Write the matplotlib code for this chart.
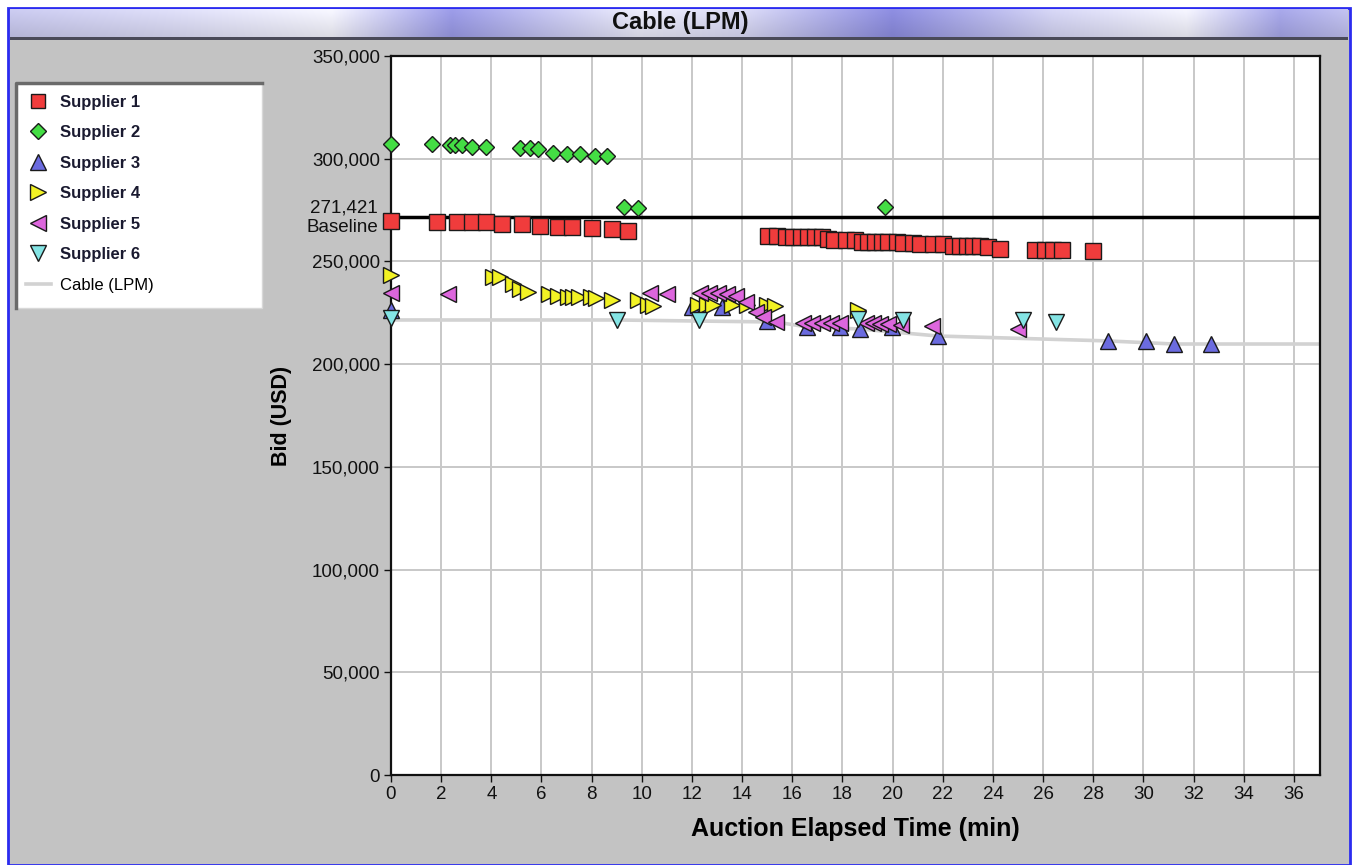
import numpy as np
import matplotlib
matplotlib.use("Agg")
import matplotlib.pyplot as plt
from matplotlib.patches import Rectangle
from matplotlib.lines import Line2D
from matplotlib.ticker import FuncFormatter, MultipleLocator
import matplotlib.transforms as mtransforms

W, H = 1354, 865

# --- data (time in minutes, bid in USD) ---
s1_time = [0.0, 1.83, 2.63, 3.23, 3.79, 4.43, 5.23, 5.94, 6.66, 7.22, 8.01, 8.81, 9.45,
           15.03, 15.39, 15.75, 16.03, 16.35, 16.63, 16.9, 17.18, 17.42, 17.68,
           18.14, 18.5, 18.78, 19.02, 19.3, 19.58, 19.82, 20.18, 20.41, 20.81,
           21.09, 21.61, 22.0, 22.41, 22.69, 22.97, 23.2, 23.48, 23.8, 24.28,
           25.68, 26.08, 26.4, 26.75, 27.99]
s1_bid = [269700, 269200, 269200, 269200, 269200, 268300, 268300, 267300, 266800, 266800,
          266300, 265800, 264800,
          262400, 262400, 261900, 261900, 261900, 261900, 261900, 261900, 261000, 260500,
          260500, 260500, 259500, 259500, 259500, 259500, 259500, 259500, 259000, 259000,
          258500, 258500, 258500, 257500, 257500, 257500, 257500, 257500, 257100, 256100,
          255600, 255600, 255600, 255600, 255100]

s2_time = [0.0, 1.63, 2.35, 2.55, 2.83, 3.23, 3.79, 5.14, 5.54, 5.86, 6.46, 7.02, 7.54,
           8.13, 8.61, 9.29, 9.85, 19.7]
s2_bid = [307200, 307200, 306700, 306700, 306700, 305700, 305700, 305300, 305300, 304800,
          302800, 302300, 302300, 301300, 301300, 276500, 276000, 276500]

s3_time = [0.0, 12.0, 13.2, 15.0, 16.6, 17.9, 18.7, 19.96, 21.8, 28.6, 30.1, 31.2, 32.7]
s3_bid = [226400, 227800, 227800, 221000, 218100, 218100, 217100, 218100, 213700,
          211300, 211300, 209800, 209800]

s4_time = [0.0, 4.07, 4.35, 4.87, 5.14, 5.46, 6.3, 6.66, 7.06, 7.26, 7.5, 7.97, 8.17,
           8.81, 9.85, 10.25, 10.45, 12.24, 12.6, 12.84, 13.6, 14.2, 15.0, 15.3, 18.6]
s4_bid = [243400, 242400, 242400, 239000, 236600, 235200, 234200, 233200, 232700, 232700,
          232700, 232700, 232200, 231300, 231300, 228800, 228300, 228800, 228800, 228800,
          228800, 228800, 228800, 228300, 226400]

s5_time = [0.0, 2.27, 10.33, 11.0, 12.32, 12.68, 13.04, 13.4, 13.76, 14.15, 14.55, 14.83,
           15.35, 16.43, 16.79, 17.18, 17.54, 17.9, 18.94, 19.22, 19.5, 19.82, 20.33,
           21.57, 25.0]
s5_bid = [234700, 234200, 234700, 234200, 234700, 234700, 234700, 234200, 233200, 230300,
          225400, 223000, 220500, 220100, 220100, 220100, 220100, 220100, 220100, 220100,
          219600, 219600, 219100, 218600, 217100]

s6_time = [0.0, 9.0, 12.3, 18.6, 20.4, 25.2, 26.5]
s6_bid = [222500, 221500, 221500, 222000, 221500, 221500, 220500]

lpm_time = [0.0, 9.0, 15.35, 16.6, 18.7, 21.8, 28.6, 31.2, 37.04]
lpm_bid = [221500, 221500, 220500, 218100, 217100, 213700, 211300, 209800, 209800]

baseline = 271421

suppliers = ["Supplier 1", "Supplier 2", "Supplier 3", "Supplier 4", "Supplier 5", "Supplier 6"]
series = [(s1_time, s1_bid), (s2_time, s2_bid), (s3_time, s3_bid),
          (s4_time, s4_bid), (s5_time, s5_bid), (s6_time, s6_bid)]
markers = ["s", "D", "^", ">", "<", "v"]
msizes = [11, 8.5, 11.5, 11.5, 11.5, 11.5]
colors = ["#f03c3c", "#44dd44", "#6b6bdf", "#f2f224", "#dd66dd", "#84e4e4"]

FONT = ["Liberation Sans", "DejaVu Sans"]
plt.rcParams["font.family"] = FONT


def fx(px):
    return px / W


def fy(py):
    return 1 - py / H


fig = plt.figure(figsize=(W / 100, H / 100), dpi=100)
fig.patch.set_facecolor("white")

# window body with blue border
fig.add_artist(Rectangle((fx(8), 0), fx(1350) - fx(8), fy(8), transform=fig.transFigure,
                         facecolor="#c3c3c3", edgecolor="#2b2bf0", linewidth=2, zorder=0))

# title bar gradient
bar = fig.add_axes([fx(10), fy(37), fx(1348) - fx(10), fy(9) - fy(37)])
bar.set_axis_off()
pos = [0.0, 0.12, 0.24, 0.33, 0.40, 0.47, 0.55, 0.66, 0.78, 0.88, 0.95, 1.0]
cols = ["#c9c9ee", "#dcdcf6", "#f4f4fd", "#9a9ae6", "#c4c4f0", "#eaeaf9",
        "#d8d8f4", "#8c8cdf", "#d4d4f3", "#f2f2fc", "#a6a6e8", "#c0c0ee"]
rgb = np.array([matplotlib.colors.to_rgb(c) for c in cols])
xs = np.linspace(0, 1, 600)
row = np.stack([np.interp(xs, pos, rgb[:, k]) for k in range(3)], axis=1)
shade = np.linspace(1.02, 0.9, 28)[:, None, None]
img = np.clip(row[None, :, :] * shade, 0, 1)
bar.imshow(img, aspect="auto", extent=(0, 1, 0, 1))
fig.add_artist(Rectangle((fx(10), fy(40)), fx(1348) - fx(10), fy(37) - fy(40),
                         transform=fig.transFigure, facecolor="#4a4a58", edgecolor="none"))
fig.text(0.5 + fx(3), fy(22), "Cable (LPM)", ha="center", va="center",
         fontsize=17, fontweight="bold", color="#101010")

# main plot
ax = fig.add_axes([fx(391), fy(775), fx(1320) - fx(391), fy(56) - fy(775)])
ax.set_facecolor("white")
ax.set_xlim(0, 37.04)
ax.set_ylim(0, 350000)
ax.xaxis.set_major_locator(MultipleLocator(2))
ax.yaxis.set_major_locator(MultipleLocator(50000))
ax.yaxis.set_major_formatter(FuncFormatter(lambda v, p: f"{int(v):,}"))
ax.grid(True, color="#c8c8c8", linewidth=1.4)
ax.set_axisbelow(True)
for sp in ax.spines.values():
    sp.set_color("#111111")
    sp.set_linewidth(1.6)
ax.tick_params(direction="out", length=5, width=1, labelsize=13.5, colors="#111111", pad=3)

ax.plot(lpm_time, lpm_bid, color="#d2d2d2", linewidth=2.6, zorder=2, label="Cable (LPM)")
ax.axhline(baseline, color="black", linewidth=2.5, zorder=2.5)

trans = mtransforms.blended_transform_factory(ax.transAxes, ax.transData)
ax.text(-0.014, baseline, "271,421\nBaseline", transform=trans, ha="right", va="center",
        fontsize=13.5, linespacing=1.2, color="#111111")

handles = []
for (t, b), name, m, ms, c in zip(series, suppliers, markers, msizes, colors):
    h, = ax.plot(t, b, linestyle="none", marker=m, markersize=ms, markerfacecolor=c,
                 markeredgecolor="#1a1a1a", markeredgewidth=1.0, clip_on=False,
                 zorder=3, label=name)
    handles.append(h)

ax.set_xlabel("Auction Elapsed Time (min)", fontsize=18, fontweight="bold", labelpad=10)
ax.set_ylabel("Bid (USD)", fontsize=15.5, fontweight="bold", labelpad=14)

# legend box (white, inset-style dark top/left edge)
fig.add_artist(Rectangle((fx(15), fy(308)), fx(262) - fx(15), fy(82) - fy(308),
                         transform=fig.transFigure, facecolor="white",
                         edgecolor="#d8d8d8", linewidth=1, zorder=1))
fig.add_artist(Line2D([fx(16), fx(16), fx(262)], [fy(308), fy(83), fy(83)],
                      transform=fig.transFigure, color="#6a6a6a", linewidth=2.5, zorder=2))
lpm_handle = Line2D([], [], color="#d2d2d2", linewidth=2.6)
leg = fig.legend(handles + [lpm_handle], suppliers + ["Cable (LPM)"], loc="upper left",
                 bbox_to_anchor=(fx(14), fy(83)), frameon=False, fontsize=12,
                 labelspacing=0.93, handlelength=1.5, handletextpad=0.55, borderpad=0.2,
                 markerscale=0.95)
for txt in leg.get_texts()[:6]:
    txt.set_fontweight("bold")
    txt.set_color("#1a1a30")

fig.savefig("out.png", dpi=100)
